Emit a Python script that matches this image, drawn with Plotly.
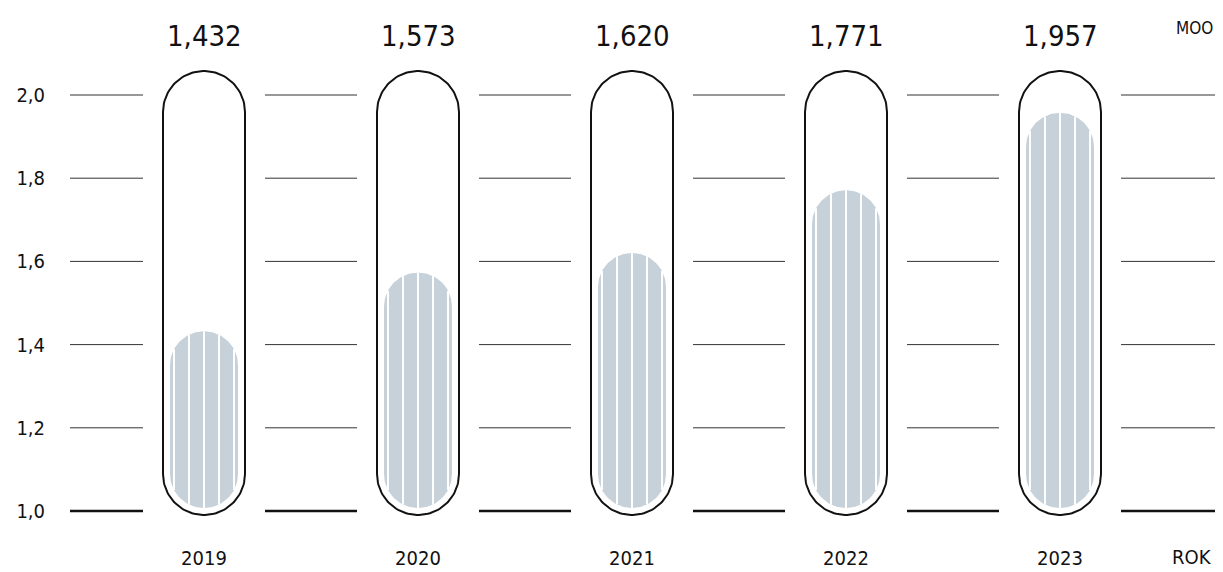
import numpy as np
import plotly.graph_objects as go

# ---------------- data ----------------
years = ["2019", "2020", "2021", "2022", "2023"]
values = [1.432, 1.573, 1.620, 1.771, 1.957]
value_labels = ["1,432", "1,573", "1,620", "1,771", "1,957"]
y_ticks = [1.0, 1.2, 1.4, 1.6, 1.8, 2.0]
y_tick_labels = ["1,0", "1,2", "1,4", "1,6", "1,8", "2,0"]
unit_label = "MOO"
axis_label = "ROK"

# ---------------- layout constants ----------------
OFF = 8                       # page body margin offset
W, H = 1223 - 2 * OFF, 572 - OFF
ml, mr, mt = 48, 0, 0
PLOT_BOTTOM = 527 - OFF
mb = H - PLOT_BOTTOM
X0_PX, DX_PX = 204 - OFF, 214     # pixel centre of first category, category spacing
Y1_PX, Y2_PX = 511 - OFF, 95 - OFF  # pixel of y = 1.0 and y = 2.0
sx = DX_PX
sy = Y1_PX - Y2_PX
xr = [(ml - X0_PX) / sx, (W - mr - X0_PX) / sx]
yr = [1 - (H - mb - Y1_PX) / sy, 1 + (Y1_PX - mt) / sy]

def px_x(p):
    return (p - OFF - X0_PX) / sx

def px_y(p):
    return 1 + (Y1_PX - (p - OFF)) / sy

FONT = "DejaVu Sans Condensed, Liberation Sans Narrow, sans-serif"
FILL = "#c6d1d9"
INK = "#111111"

OUT_R = 41            # outline half width (px)
IN_R = 34             # fill half width (px)
OUT_TOP = px_y(71)
OUT_BOT = px_y(515)
IN_BOT = px_y(508)
STRIPES = [-30, -15, 0, 15, 30]

def capsule(cx, y_bot, y_top, r_px, n=60):
    rx, ry = r_px / sx, r_px / sy
    t1 = np.linspace(0, np.pi, n)
    t2 = np.linspace(np.pi, 2 * np.pi, n)
    xs = np.concatenate([cx + rx * np.cos(t1), cx + rx * np.cos(t2)])
    ys = np.concatenate([(y_top - ry) + ry * np.sin(t1), (y_bot + ry) + ry * np.sin(t2)])
    xs = np.append(xs, xs[0])
    ys = np.append(ys, ys[0])
    return xs, ys

fig = go.Figure()

# grid segments between capsules
shapes = []
gaps = [i - 0.5 for i in range(len(years) + 1)]
half = 46 / sx
for j, g in enumerate(gaps):
    x0 = g - half
    x1 = g + half
    if j == 0:
        x0 = px_x(70)
    if j == len(gaps) - 1:
        x1 = xr[1]
    for yt in y_ticks:
        base = yt == y_ticks[0]
        shapes.append(dict(type="line", xref="x", yref="y", x0=x0, x1=x1, y0=yt, y1=yt,
                           line=dict(color=INK if base else "#333333",
                                     width=2.5 if base else 1),
                           layer="below"))

for i, (yr_, v) in enumerate(zip(years, values)):
    # outline capsule
    xs, ys = capsule(i, OUT_BOT, OUT_TOP, OUT_R)
    fig.add_trace(go.Scatter(x=xs, y=ys, mode="lines", fill="toself", fillcolor="white",
                             line=dict(color=INK, width=2), hoverinfo="skip",
                             showlegend=False))
    # inner fill
    xs, ys = capsule(i, IN_BOT, v, IN_R)
    fig.add_trace(go.Scatter(x=xs, y=ys, mode="lines", fill="toself", fillcolor=FILL,
                             line=dict(width=0, color=FILL), hoverinfo="skip",
                             showlegend=False, name=yr_))
    # stripes
    sxs, sys_ = [], []
    ry = IN_R / sy
    for d in STRIPES:
        h = np.sqrt(IN_R ** 2 - d ** 2) / sy
        sxs += [i + d / sx, i + d / sx, None]
        sys_ += [IN_BOT + ry - h, v - ry + h, None]
    fig.add_trace(go.Scatter(x=sxs, y=sys_, mode="lines", line=dict(color="white", width=2),
                             hoverinfo="skip", showlegend=False))

annotations = []
for i, lab in enumerate(value_labels):
    annotations.append(dict(x=i, y=px_y(36), xref="x", yref="y", text=lab, showarrow=False,
                            xanchor="center", yanchor="middle",
                            font=dict(family=FONT, size=29, color=INK)))
annotations.append(dict(x=xr[1], y=px_y(28), xref="x", yref="y", text=unit_label,
                        showarrow=False, xanchor="right", yanchor="middle",
                        font=dict(family=FONT, size=17, color=INK)))
annotations.append(dict(x=px_x(1214), y=(H - mb - (557 - OFF)) / (H - mt - mb), xref="x",
                        yref="paper", text=axis_label, showarrow=False,
                        xanchor="right", yanchor="middle",
                        font=dict(family=FONT, size=20, color=INK)))

fig.update_layout(
    width=W, height=H,
    margin=dict(l=ml, r=mr, t=mt, b=mb),
    paper_bgcolor="white", plot_bgcolor="white",
    shapes=shapes, annotations=annotations,
    xaxis=dict(range=xr, tickvals=list(range(len(years))), ticktext=years,
               showgrid=False, zeroline=False, showline=False, ticks="",
               ticklabelstandoff=17,
               tickfont=dict(family=FONT, size=20, color=INK), fixedrange=True),
    yaxis=dict(range=yr, tickvals=y_ticks, ticktext=y_tick_labels,
               showgrid=False, zeroline=False, showline=False, ticks="",
               ticklabelstandoff=10,
               tickfont=dict(family=FONT, size=20, color=INK), fixedrange=True),
)

fig.write_html("out.html")
